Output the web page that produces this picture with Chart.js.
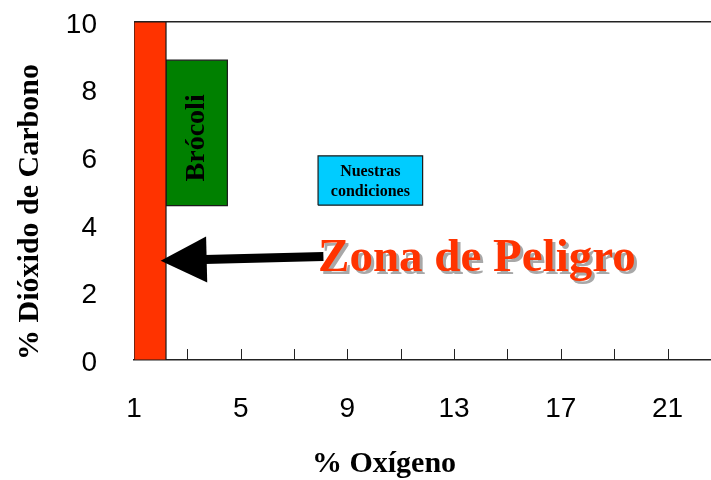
<!DOCTYPE html>
<html>
<head>
<meta charset="utf-8">
<script src="https://cdn.jsdelivr.net/npm/chart.js@4.4.0/dist/chart.umd.min.js"></script>
<style>
  html, body { margin: 0; padding: 0; background: #fff; }
  #wrap { width: 711px; height: 480px; }
</style>
</head>
<body>
<div id="wrap"><canvas id="chart"></canvas></div>
<script>
// ranges: [min, max] for O2 (x) and CO2 (y)
const dangerO2 = [1, 2.2];
const dangerCO2 = [0, 10];
const broccoliO2 = [2.2, 4.5];
const broccoliCO2 = [4.57, 8.87];
const oursO2 = [7.9, 11.82];
const oursCO2 = [4.58, 6.04];

// arrow pointing at the danger zone, [x, y]
const arrowFrom = [8.1, 3.06];
const arrowTo = [2.0, 2.94];
const dangerLabelAt = [7.9, 2.63];

const xTickValues = [1, 3, 5, 7, 9, 11, 13, 15, 17, 19, 21];
const xTickLabels = ['1', '', '5', '', '9', '', '13', '', '17', '', '21'];
const yTickValues = [0, 2, 4, 6, 8, 10];

const broccoliLabel = 'Brócoli';
const oursLabel = ['Nuestras', 'condiciones'];
const dangerLabel = 'Zona de Peligro';

const SERIF = '"Liberation Serif", "Times New Roman", serif';
const SANS = '"Liberation Sans", Arial, sans-serif';

function rect(xs, ys) {
  return [
    {x: xs[0], y: ys[0]}, {x: xs[0], y: ys[1]},
    {x: xs[1], y: ys[1]}, {x: xs[1], y: ys[0]},
    {x: xs[0], y: ys[0]}
  ];
}

function box(data, color) {
  return {
    data: data,
    showLine: true,
    fill: 'shape',
    backgroundColor: color,
    borderColor: '#1a1a1a',
    borderWidth: 1.2,
    pointRadius: 0,
    tension: 0
  };
}

// inner tick marks on the x axis
const innerTicks = {
  id: 'innerTicks',
  afterDatasetsDraw(chart) {
    const {ctx, scales: {x, y}} = chart;
    const y0 = y.getPixelForValue(0);
    ctx.save();
    ctx.strokeStyle = '#222';
    ctx.lineWidth = 1;
    xTickValues.forEach(v => {
      if (v === xTickValues[0]) return;
      const px = Math.round(x.getPixelForValue(v)) + 0.5;
      ctx.beginPath();
      ctx.moveTo(px, y0);
      ctx.lineTo(px, y0 - 11);
      ctx.stroke();
    });
    ctx.restore();
  }
};

// labels, arrow and axis titles
const annotations = {
  id: 'annotations',
  afterDatasetsDraw(chart) {
    const {ctx, scales: {x, y}} = chart;
    ctx.save();

    // Brócoli, vertical
    const bx = x.getPixelForValue((broccoliO2[0] + broccoliO2[1]) / 2);
    const by = y.getPixelForValue((broccoliCO2[0] + broccoliCO2[1]) / 2) + 5;
    ctx.save();
    ctx.translate(bx, by);
    ctx.rotate(-Math.PI / 2);
    ctx.font = 'bold 28px ' + SERIF;
    ctx.fillStyle = '#000';
    ctx.textAlign = 'center';
    ctx.textBaseline = 'middle';
    ctx.fillText(broccoliLabel, 0, 0);
    ctx.restore();

    // Nuestras condiciones
    const ox = x.getPixelForValue((oursO2[0] + oursO2[1]) / 2);
    const oy = y.getPixelForValue((oursCO2[0] + oursCO2[1]) / 2);
    ctx.font = 'bold 16px ' + SERIF;
    ctx.fillStyle = '#000';
    ctx.textAlign = 'center';
    ctx.textBaseline = 'middle';
    ctx.fillText(oursLabel[0], ox, oy - 9);
    ctx.fillText(oursLabel[1], ox, oy + 11);

    // arrow
    const x1 = x.getPixelForValue(arrowFrom[0]), y1 = y.getPixelForValue(arrowFrom[1]);
    const x2 = x.getPixelForValue(arrowTo[0]), y2 = y.getPixelForValue(arrowTo[1]);
    const ang = Math.atan2(y2 - y1, x2 - x1);
    const headLen = 46, headHalf = 23;
    const hx = x2 - headLen * Math.cos(ang), hy = y2 - headLen * Math.sin(ang);
    ctx.strokeStyle = '#000';
    ctx.lineWidth = 9;
    ctx.beginPath();
    ctx.moveTo(x1, y1);
    ctx.lineTo(hx + 2 * Math.cos(ang), hy + 2 * Math.sin(ang));
    ctx.stroke();
    ctx.fillStyle = '#000';
    ctx.beginPath();
    ctx.moveTo(x2, y2);
    ctx.lineTo(hx - headHalf * Math.sin(ang), hy + headHalf * Math.cos(ang));
    ctx.lineTo(hx + headHalf * Math.sin(ang), hy - headHalf * Math.cos(ang));
    ctx.closePath();
    ctx.fill();

    // Zona de Peligro with drop shadow
    const zx = x.getPixelForValue(dangerLabelAt[0]);
    const zy = y.getPixelForValue(dangerLabelAt[1]);
    ctx.font = 'bold 47px ' + SERIF;
    ctx.textAlign = 'left';
    ctx.textBaseline = 'alphabetic';
    ctx.fillStyle = '#a8a8a8';
    ctx.fillText(dangerLabel, zx + 3, zy + 3);
    ctx.fillStyle = '#ff3300';
    ctx.fillText(dangerLabel, zx, zy);

    ctx.restore();
  },
  afterDraw(chart) {
    const {ctx} = chart;
    ctx.save();
    ctx.font = 'bold 30px ' + SERIF;
    ctx.fillStyle = '#000';
    ctx.textAlign = 'center';
    ctx.textBaseline = 'alphabetic';
    ctx.fillText('% Oxígeno', 384, 472);
    ctx.translate(38, 212);
    ctx.rotate(-Math.PI / 2);
    ctx.fillText('% Dióxido de Carbono', 0, 0);
    ctx.restore();
  }
};

const ctx = document.getElementById('chart').getContext('2d');
new Chart(ctx, {
  type: 'scatter',
  data: {
    datasets: [
      box(rect(dangerO2, dangerCO2), '#ff3300'),
      box(rect(broccoliO2, broccoliCO2), '#008000'),
      box(rect(oursO2, oursCO2), '#00ccff')
    ]
  },
  options: {
    responsive: true,
    maintainAspectRatio: false,
    animation: false,
    layout: { padding: { top: 22, right: 0, bottom: 0, left: 0 } },
    plugins: {
      legend: { display: false },
      tooltip: { enabled: false }
    },
    scales: {
      x: {
        type: 'linear',
        min: 1,
        max: 22.63,
        afterBuildTicks: scale => { scale.ticks = xTickValues.map(v => ({value: v})); },
        afterFit: scale => {
          scale.height = 120;
          scale.paddingLeft = 0;
          scale.paddingRight = 0;
        },
        grid: { display: false },
        border: { display: true, color: '#222', width: 1.5 },
        ticks: {
          autoSkip: false,
          maxRotation: 0,
          padding: 24,
          color: '#000',
          font: { family: SANS, size: 28 },
          callback: (v, i) => xTickLabels[i]
        }
      },
      y: {
        min: 0,
        max: 10,
        afterBuildTicks: scale => { scale.ticks = yTickValues.map(v => ({value: v})); },
        afterFit: scale => {
          scale.width = 134;
          scale.paddingTop = 0;
          scale.paddingBottom = 0;
        },
        grid: {
          drawTicks: false,
          lineWidth: 1.5,
          color: c => (c.tick && c.tick.value === 10) ? '#222' : 'rgba(0,0,0,0)'
        },
        border: { display: false },
        ticks: {
          padding: 37,
          labelOffset: 3,
          color: '#000',
          font: { family: SANS, size: 28 }
        }
      }
    }
  },
  plugins: [innerTicks, annotations]
});
</script>
</body>
</html>
